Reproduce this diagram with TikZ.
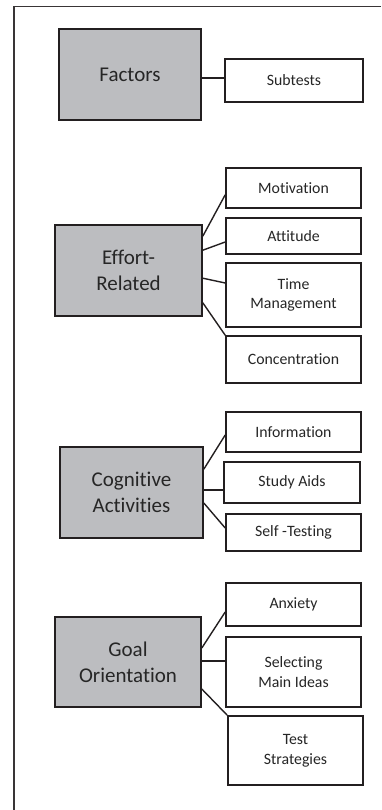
\documentclass[tikz,border=0pt]{standalone}
\usepackage{fontspec}
\setmainfont{Carlito}[Ligatures={NoCommon,NoContextual,NoRequired}]
\usetikzlibrary{calc}
\definecolor{ink}{HTML}{231F20}
\definecolor{txt}{HTML}{262626}
\definecolor{factorfill}{HTML}{BCBDC0}
\begin{document}
\begin{tikzpicture}[x=1pt,y=-1pt,
  factor/.style={draw=ink, line width=1.6pt, fill=factorfill, text=txt,
    align=center, inner sep=0pt,
    font=\fontsize{21}{26.3}\selectfont},
  subtest/.style={draw=ink, line width=1.6pt, fill=white, text=txt,
    align=center, inner sep=0pt, minimum width=135pt,
    font=\fontsize{15.8}{19.7}\selectfont},
  link/.style={draw=ink, line width=1.4pt}]
\useasboundingbox (0,0) rectangle (381,810);

% outer frame: top and left edges only
\coordinate (frameTR) at (381,6.5);
\coordinate (frameTL) at (14,6.5);
\coordinate (frameBL) at (14,810);
\draw[ink!90, line width=1.8pt] (frameTR) -- (frameTL) -- (frameBL);

% header row
\node[factor, minimum width=142pt, minimum height=91pt] (fac) at (130,74.5) {Factors};
\node[subtest, minimum width=138pt, minimum height=43pt] (sub) at (294,80.5) {Subtests};
\draw[link] ($(fac.east)+(0,3.5)$) -- ($(sub.west)+(0,-2.5)$);

% effort-related
\node[factor, minimum width=147pt, minimum height=91pt] (eff) at (128.5,270.5) {Effort-\\Related};
\node[subtest, minimum height=40pt] (mot) at (293.5,188) {Motivation};
\node[subtest, minimum height=36pt] (att) at (293.5,236) {Attitude};
\node[subtest, minimum height=64pt] (tim) at (293.5,295) {Time\\Management};
\node[subtest, minimum height=47pt] (con) at (293.5,359.5) {Concentration};
\draw[link] ($(eff.north east)+(0,12)$) -- ($(mot.south west)+(0,-14)$);
\draw[link] ($(eff.north east)+(0,26)$) -- ($(att.west)+(0,6)$);
\draw[link] ($(eff.north east)+(0,54)$) -- ($(tim.west)+(0,-12)$);
\draw[link] ($(eff.south east)+(0,-14)$) -- (con.north west);

% cognitive activities
\node[factor, minimum width=143pt, minimum height=91pt] (cog) at (131.5,492.5) {Cognitive\\Activities};
\node[subtest, minimum height=40pt] (inf) at (293.5,432) {Information};
\node[subtest, minimum width=136pt, minimum height=41pt] (stu) at (292,482.5) {Study Aids};
\node[subtest, minimum height=37pt] (sel) at (293.5,532.5) {Self -Testing};
\draw[link] ($(cog.north east)+(0,23)$) -- ($(inf.west)+(0,3)$);
\draw[link] ($(cog.east)+(0,-2.5)$) -- ($(stu.west)+(0,7.5)$);
\draw[link] ($(cog.east)+(0,10.5)$) -- ($(sel.west)+(0,-4.5)$);

% goal orientation
\node[factor, minimum width=146pt, minimum height=90pt] (goa) at (128,662) {Goal\\Orientation};
\node[subtest, minimum height=43pt] (anx) at (293.5,604.5) {Anxiety};
\node[subtest, minimum height=70pt] (smi) at (293.5,672) {Selecting\\Main Ideas};
\node[subtest, minimum height=69pt] (tst) at (295.5,750.5) {Test\\Strategies};
\draw[link] ($(goa.east)+(0,-14)$) -- ($(anx.west)+(0,7.5)$);
\draw[link] ($(goa.east)+(0,-1)$) -- ($(smi.west)+(0,-11)$);
\draw[link] ($(goa.east)+(0,27)$) -- (tst.north west);
\end{tikzpicture}
\end{document}
